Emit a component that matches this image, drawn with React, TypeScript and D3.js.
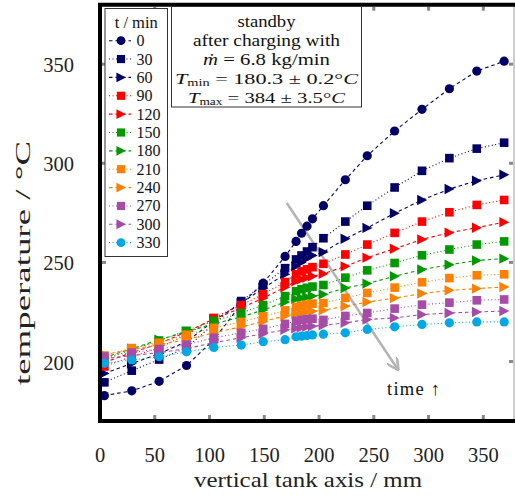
import React from 'react';
import * as d3 from 'd3';

// ---------- data ----------
const xPositions = [4, 29, 54, 79, 104, 129, 149, 169, 179, 184, 189, 194, 204, 224, 244, 269, 294, 319, 344, 369];
const timeLabels = ['0', '30', '60', '90', '120', '150', '180', '210', '240', '270', '300', '330'];

const t0 = [182.8, 185.2, 190, 198, 211, 229, 239.5, 253, 260.6, 264.7, 268.3, 272, 278.6, 291.7, 303.8, 316.3, 327.2, 337.6, 346.5, 351.5];
const t30 = [189.5, 195.4, 201, 207, 219, 230.5, 238.7, 247.1, 251.5, 253.5, 255.5, 257.7, 262.2, 270.6, 278.6, 287.8, 296.2, 302.6, 307.4, 310.4];
const t60 = [194, 199, 204, 210, 220.5, 229.5, 237, 244, 248, 250, 252, 253.5, 255.2, 261.9, 267.4, 274.8, 281.5, 287, 291.2, 294.2];
const t90 = [197.5, 202.5, 207, 213.5, 222, 228.5, 234, 240.1, 244, 245.5, 246.5, 247.6, 249.3, 254, 259, 264.9, 270.6, 275.3, 279, 281.5];
const t120 = [199.5, 204.5, 209, 215, 221.5, 227, 232, 237.5, 240.5, 241.5, 242.3, 243, 244.3, 248, 252.4, 256.9, 261.6, 265, 267.5, 270.3];
const t150 = [201, 206, 210.6, 215.5, 220.5, 224.5, 228.5, 233, 235.5, 236.5, 237.2, 237.8, 238.6, 242.3, 246, 249.7, 253.6, 256.5, 259, 260.6];
const t180 = [202, 206.5, 211, 215, 219, 222.5, 226, 230, 231.5, 232, 232.5, 233, 233.9, 237.1, 239.3, 243, 246.4, 248.8, 251, 251.9];
const t210 = [203, 206.8, 209.5, 213.5, 217, 220, 222.8, 225.8, 227.5, 228.2, 228.7, 229.2, 229.5, 232.1, 234.6, 237.3, 240, 242.1, 243.5, 244];
const t240 = [203.5, 206, 208.5, 211, 214.5, 217.5, 220.2, 223, 224, 224.5, 225, 225.4, 225.9, 227.9, 230, 232, 234.3, 235.9, 236.8, 237.6];
const t270 = [202.5, 204.5, 206.3, 208.5, 212, 214.5, 216.5, 219, 220.5, 221, 221.3, 221.6, 221, 223, 224.5, 226.7, 228.7, 229.7, 230.9, 231.3];
const t300 = [201.5, 203, 204.5, 206.5, 209.5, 212, 214, 216, 216.8, 217.2, 217.5, 217.8, 218.3, 219.5, 221.2, 222, 223.7, 224.5, 225, 225.5];
const t330 = [199.1, 200.8, 202.4, 204.9, 207.1, 208.3, 210, 211, 212.5, 212.8, 213.1, 213.4, 213.8, 214.5, 216.2, 217.5, 218.7, 219.5, 220, 220];

const seriesValues = [t0, t30, t60, t90, t120, t150, t180, t210, t240, t270, t300, t330];
const seriesColors = ['#000066', '#000066', '#000066', '#ff0000', '#ff0000', '#009900', '#009900', '#ff8000', '#ff8000', '#a64ca6', '#a64ca6', '#00a8e6'];
const seriesShapes = ['circle', 'square', 'triangle', 'square', 'triangle', 'square', 'triangle', 'square', 'triangle', 'square', 'triangle', 'circle'];
const seriesDash = ['3.5,3', '1,2.5', '3.5,3', '1,2.5', '3.5,3', '1,2.5', '3.5,3', '1,2.5', '3.5,3', '1,2.5', '3.5,3', '1,2.5'];

const xTicks = [0, 50, 100, 150, 200, 250, 300, 350];
const yTicks = [200, 250, 300, 350];

// time arrow (data coords: mm, °C)
const arrowX = [170.5, 272];
const arrowY = [280, 196];

const FONT = "'Liberation Serif', 'DejaVu Serif', serif";

function Marker({ shape, cx, cy, color, s = 1 }: { shape: string; cx: number; cy: number; color: string; s?: number }) {
  if (shape === 'circle') return <circle cx={cx} cy={cy} r={4.6 * s} fill={color} />;
  if (shape === 'square') {
    const h = 4.3 * s;
    return <rect x={cx - h} y={cy - h} width={2 * h} height={2 * h} fill={color} />;
  }
  const w = 4.8 * s;
  return <polygon points={`${cx - w},${cy - 5.2 * s} ${cx + w + 0.4},${cy} ${cx - w},${cy + 5.2 * s}`} fill={color} />;
}

export default function App() {
  const W = 515, H = 498;
  const X0 = 100, X1 = 514, Y0 = 4.7, Y1 = 421;
  const x = d3.scaleLinear().domain([0, 378]).range([X0, X1]);
  const y = d3.scaleLinear().domain([170, 380]).range([Y1, Y0]);
  const line = d3.line<number>().x((_, i) => x(xPositions[i])).y(d => y(d));

  const legX = 105, legY = 8.5, legW = 62.5, legH = 248;
  const annX = 171.5, annY = 6.5, annW = 190, annH = 100.5;
  const acx = annX + annW / 2;

  return (
    <svg width={W} height={H} style={{ position: 'absolute', left: 0, top: 0, background: '#fff' }} fontFamily={FONT}>
      <defs>
        <marker id="ah" viewBox="0 0 10 10" refX="9" refY="5" markerWidth="5" markerHeight="5" orient="auto">
          <path d="M0,0 L10,5 L0,10" fill="none" stroke="#b4b4b4" strokeWidth="2" />
        </marker>
      </defs>
      <rect x={0} y={0} width={W} height={H} fill="#fff" />

      {/* inner tick marks */}
      {xTicks.filter(t => t > 0).map(t => (
        <g key={'xt' + t}>
          <rect x={x(t) - 1.5} y={Y1 - 6} width={3} height={4} fill="#888" />
          <rect x={x(t) - 1.5} y={Y0 + 2} width={3} height={4} fill="#888" />
        </g>
      ))}
      {yTicks.map(t => (
        <g key={'yt' + t}>
          <rect x={X0 + 2} y={y(t) - 1.5} width={4} height={3} fill="#888" />
          <rect x={X1 - 5} y={y(t) - 1.5} width={4} height={3} fill="#888" />
        </g>
      ))}

      {/* time arrow */}
      <line x1={x(arrowX[0])} y1={y(arrowY[0])} x2={x(arrowX[1])} y2={y(arrowY[1])} stroke="#b4b4b4" strokeWidth={2.5} markerEnd="url(#ah)" />
      <text x={387} y={395} fontSize={18.5} fill="#111" textLength={53}>time ↑</text>

      {/* series */}
      {seriesValues.map((vals, si) => (
        <g key={'s' + si}>
          <path d={line(vals) || ''} fill="none" stroke={seriesColors[si]} strokeWidth={1.1} strokeDasharray={seriesDash[si]} />
          {vals.map((v, i) => (
            <Marker key={i} shape={seriesShapes[si]} cx={x(xPositions[i])} cy={y(v)} color={seriesColors[si]} />
          ))}
        </g>
      ))}

      {/* frame */}
      <line x1={X1} y1={Y0} x2={X1} y2={Y1} stroke="#999" strokeWidth={1} />
      <path d={`M${X1 + 2},${Y0} L${X0},${Y0} L${X0},${Y1} L${X1 + 2},${Y1}`} fill="none" stroke="#000" strokeWidth={4} />

      {/* legend */}
      <rect x={legX} y={legY} width={legW} height={legH} fill="#fff" stroke="#333" strokeWidth={1} />
      <text x={legX + legW / 2} y={28} fontSize={16.5} textAnchor="middle" fill="#111" textLength={43}>t / min</text>
      {timeLabels.map((lab, i) => {
        const cy = 40.7 + i * 18.36;
        return (
          <g key={'l' + i}>
            <line x1={109} x2={131} y1={cy} y2={cy} stroke={seriesColors[i]} strokeWidth={1.1} strokeDasharray={seriesDash[i]} />
            <Marker shape={seriesShapes[i]} cx={121} cy={cy} color={seriesColors[i]} s={0.95} />
            <text x={136.5} y={cy + 5.5} fontSize={16} fill="#111">{lab}</text>
          </g>
        );
      })}

      {/* annotation */}
      <rect x={annX} y={annY} width={annW} height={annH} fill="#fff" stroke="#333" strokeWidth={1} />
      <g textAnchor="middle" fill="#111">
        <text x={acx} y={27} fontSize={16} textLength={58} lengthAdjust="spacingAndGlyphs">standby</text>
        <text x={acx} y={46} fontSize={16} textLength={147} lengthAdjust="spacingAndGlyphs">after charging with</text>
        <text x={acx} y={65} fontSize={16} textLength={127} lengthAdjust="spacingAndGlyphs"><tspan fontStyle="italic">ṁ</tspan> =  6.8 kg/min</text>
        <text x={acx} y={84} fontSize={15.5} textLength={183} lengthAdjust="spacingAndGlyphs"><tspan fontStyle="italic">T</tspan><tspan fontSize={10} dy={2}>min</tspan><tspan dy={-2}> = 180.3 ± 0.2°</tspan><tspan fontStyle="italic">C</tspan></text>
        <text x={acx} y={102.5} fontSize={15.5} textLength={157} lengthAdjust="spacingAndGlyphs"><tspan fontStyle="italic">T</tspan><tspan fontSize={10} dy={2}>max</tspan><tspan dy={-2}> = 384 ± 3.5°</tspan><tspan fontStyle="italic">C</tspan></text>
      </g>

      {/* axes labels */}
      {xTicks.map(t => (
        <text key={'xl' + t} x={x(t)} y={461.5} fontSize={20.5} textAnchor="middle" fill="#222">{t}</text>
      ))}
      {yTicks.map(t => (
        <text key={'yl' + t} x={74} y={y(t) + 8} fontSize={20.5} textAnchor="end" fill="#222">{t}</text>
      ))}
      <text x={308} y={487} fontSize={22} textAnchor="middle" fill="#222" textLength={228} lengthAdjust="spacingAndGlyphs">vertical tank axis / mm</text>
      <text transform={`translate(30,263) rotate(-90)`} fontSize={21} textAnchor="middle" fill="#222" textLength={244} lengthAdjust="spacingAndGlyphs">temperature / °C</text>
    </svg>
  );
}
